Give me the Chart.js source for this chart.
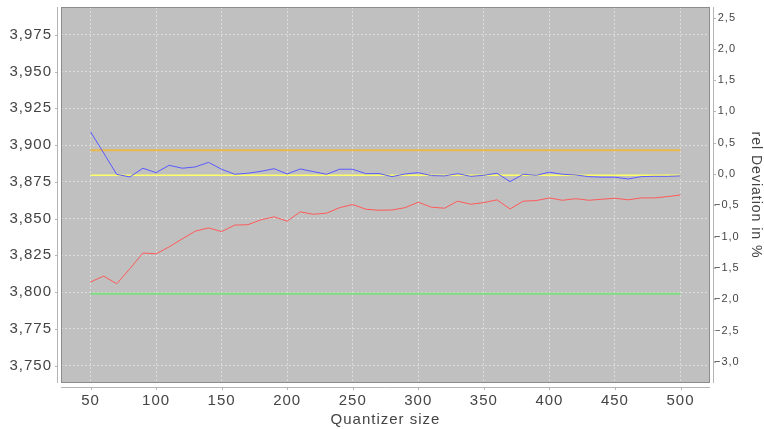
<!DOCTYPE html>
<html><head><meta charset="utf-8">
<script src="https://cdn.jsdelivr.net/npm/chart.js@4"></script>
<style>html,body{margin:0;padding:0;background:#fff;}canvas{display:block;}</style>
</head><body>
<canvas id="c" width="764" height="429"></canvas>
<script>
const quantizerSizes = [50,60,70,80,90,100,110,120,130,140,150,160,170,180,190,200,210,220,230,240,250,260,270,280,290,300,310,320,330,340,350,360,370,380,390,400,410,420,430,440,450,460,470,480,490,500];
const blueSeries = [3.9090,3.8946,3.8800,3.8783,3.8842,3.8812,3.8862,3.8842,3.8851,3.8882,3.8835,3.8801,3.8808,3.8821,3.8839,3.8803,3.8837,3.8819,3.8801,3.8835,3.8835,3.8805,3.8806,3.8785,3.8803,3.8812,3.8792,3.8790,3.8805,3.8787,3.8794,3.8808,3.8751,3.8801,3.8794,3.8815,3.8801,3.8796,3.8785,3.8781,3.8781,3.8769,3.8785,3.8787,3.8787,3.8790];
const redSeries = [3.8068,3.8108,3.8056,3.8158,3.8265,3.8260,3.8307,3.8362,3.8414,3.8436,3.8411,3.8455,3.8458,3.8491,3.8511,3.8482,3.8545,3.8529,3.8536,3.8574,3.8595,3.8563,3.8556,3.8558,3.8574,3.8611,3.8577,3.8570,3.8618,3.8597,3.8608,3.8627,3.8565,3.8618,3.8622,3.8640,3.8624,3.8635,3.8624,3.8631,3.8638,3.8627,3.8640,3.8640,3.8649,3.8660];
const orangeLevel = 3.8964;
const yellowLevel = 3.8794;
const greenLevel = 3.7988;
const xTickValues = [50,100,150,200,250,300,350,400,450,500];
const leftTickValues = [3.750,3.775,3.800,3.825,3.850,3.875,3.900,3.925,3.950,3.975];
const rightTickValues = [-3.0,-2.5,-2.0,-1.5,-1.0,-0.5,0.0,0.5,1.0,1.5,2.0,2.5];
const xTitle = 'Quantizer size';
const rightTitle = 'rel Deviation in %';

const FONT = 'Liberation Sans, Arial, sans-serif';
const TXT = '#444444';
const fmt = (v, d) => {
  let s = Math.abs(v) < 1e-9 ? (0).toFixed(d) : v.toFixed(d);
  return s.replace('.', ',').replace('-', '\u2212');
};
const seriesPoints = arr => quantizerSizes.map((x, i) => ({x: x, y: arr[i]}));
const levelPoints = lvl => [{x: quantizerSizes[0], y: lvl}, {x: quantizerSizes[quantizerSizes.length - 1], y: lvl}];
const setTicks = vals => s => { s.ticks = vals.map(v => ({value: v})); };
const noPad = s => { s.paddingTop = 0; s.paddingBottom = 0; s.paddingLeft = 0; s.paddingRight = 0; };

const spacing = {
  id: 'spacing',
  beforeUpdate(chart) { chart.ctx.letterSpacing = '1px'; },
  beforeDraw(chart) {
    chart.ctx.letterSpacing = '1px';
    const {ctx, chartArea: a} = chart;
    ctx.save();
    ctx.fillStyle = '#c0c0c0';
    ctx.fillRect(a.left, a.top, a.right - a.left, a.bottom - a.top);
    ctx.restore();
  },
  afterDraw(chart) {
    const {ctx, chartArea: a, scales} = chart;
    ctx.save();
    ctx.lineWidth = 1;
    ctx.strokeStyle = '#8c8c8c';
    ctx.strokeRect(a.left + 0.5, a.top + 0.5, a.right - a.left - 1, a.bottom - a.top - 1);
    ctx.strokeStyle = '#b4b4b4';
    ctx.beginPath();
    const lx = a.left - 3.5, rx = a.right + 3.5, by = a.bottom + 4.5;
    ctx.moveTo(lx, a.top); ctx.lineTo(lx, a.bottom);
    ctx.moveTo(rx, a.top); ctx.lineTo(rx, a.bottom);
    ctx.moveTo(a.left, by); ctx.lineTo(a.right, by);
    scales.x.ticks.forEach(t => { const p = Math.round(scales.x.getPixelForValue(t.value)) + 0.5; ctx.moveTo(p, by); ctx.lineTo(p, by + 2.5); });
    scales.y.ticks.forEach(t => { const p = Math.round(scales.y.getPixelForValue(t.value)) + 0.5; ctx.moveTo(lx, p); ctx.lineTo(lx - 2.5, p); });
    scales.yR.ticks.forEach(t => { const p = Math.round(scales.yR.getPixelForValue(t.value)) + 0.5; ctx.moveTo(rx, p); ctx.lineTo(rx + 2.5, p); });
    ctx.stroke();
    ctx.restore();
  }
};

const ds = (data, color, width) => ({data: data, borderColor: color, backgroundColor: color, borderWidth: width, pointRadius: 0, tension: 0, fill: false, yAxisID: 'y'});

new Chart(document.getElementById('c'), {
  type: 'line',
  data: {
    datasets: [
      ds(seriesPoints(blueSeries), '#5a5aff', 1),
      ds(seriesPoints(redSeries), '#ff5a5a', 1),
      ds(levelPoints(yellowLevel), '#ffff66', 1.5),
      ds(levelPoints(orangeLevel), '#e8b84a', 2),
      ds(levelPoints(greenLevel), '#80dc80', 2)
    ]
  },
  options: {
    responsive: false,
    devicePixelRatio: 1,
    animation: false,
    layout: {padding: {top: 7, left: 0, right: 0, bottom: 0}},
    plugins: {legend: {display: false}, tooltip: {enabled: false}},
    scales: {
      x: {
        type: 'linear', position: 'bottom', min: 27.5, max: 522.5,
        afterBuildTicks: setTicks(xTickValues),
        afterFit: s => { s.height = 46; noPad(s); },
        grid: {color: '#dcdcdc', drawTicks: false},
        border: {display: false, dash: [2, 2]},
        ticks: {padding: 9, color: TXT, font: {family: FONT, size: 15}, maxRotation: 0, autoSkip: false, callback: v => String(v)},
        title: {display: true, text: xTitle, color: TXT, font: {family: FONT, size: 15}, padding: {top: 0, bottom: 0}}
      },
      y: {
        type: 'linear', position: 'left', min: 3.7381, max: 3.99388,
        afterBuildTicks: setTicks(leftTickValues),
        afterFit: s => { s.width = 61; noPad(s); },
        grid: {color: '#dcdcdc', drawTicks: false},
        border: {display: false, dash: [2, 2]},
        ticks: {padding: 9, color: TXT, font: {family: FONT, size: 15}, autoSkip: false, callback: v => fmt(v, 3)}
      },
      yR: {
        type: 'linear', position: 'right', min: -3.339, max: 2.668,
        afterBuildTicks: setTicks(rightTickValues),
        afterFit: s => { s.width = 54; noPad(s); },
        grid: {drawOnChartArea: false, drawTicks: false},
        border: {display: false},
        ticks: {padding: 4, crossAlign: 'center', color: TXT, font: {family: FONT, size: 11}, autoSkip: false, callback: v => fmt(v, 1)},
        title: {display: true, text: rightTitle, color: TXT, font: {family: FONT, size: 14}, padding: {top: 0, bottom: 0}}
      }
    }
  },
  plugins: [spacing]
});
</script>
</body></html>
